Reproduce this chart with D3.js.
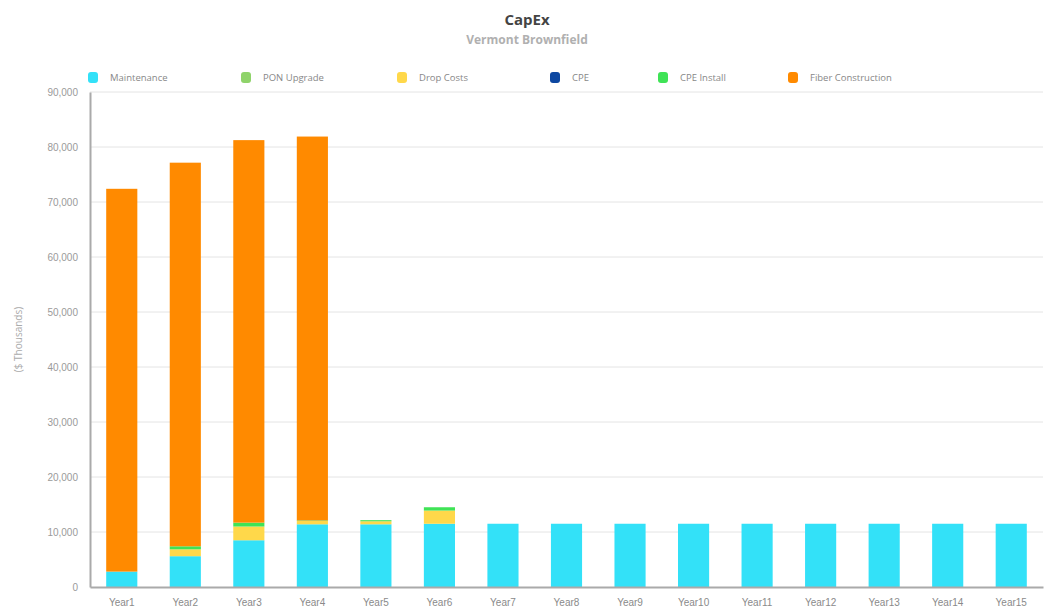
<!DOCTYPE html>
<html>
<head>
<meta charset="utf-8">
<script src="https://cdn.jsdelivr.net/npm/d3@7"></script>
<style>
  html, body { margin: 0; padding: 0; background: #fff; }
  svg { display: block; font-family: "Open Sans", "Noto Sans", sans-serif; }
</style>
</head>
<body>
<svg id="chart" width="1053" height="612"></svg>
<script>
// Capital expenditure by year, in $ thousands
const years = ["Year1","Year2","Year3","Year4","Year5","Year6","Year7","Year8",
               "Year9","Year10","Year11","Year12","Year13","Year14","Year15"];
const seriesNames = ["Maintenance","PON Upgrade","Drop Costs","CPE","CPE Install","Fiber Construction"];
const seriesColors = ["#33e1f8","#8fd36a","#ffd84a","#0d47a1","#3fe356","#ff8a00"];

const maintenance       = [2800, 5600, 8500, 11400, 11400, 11500, 11500, 11500, 11500, 11500, 11500, 11500, 11500, 11500, 11500];
const ponUpgrade        = [0, 0, 0, 0, 0, 0, 0, 0, 0, 0, 0, 0, 0, 0, 0];
const dropCosts         = [0, 1250, 2500, 600, 550, 2400, 0, 0, 0, 0, 0, 0, 0, 0, 0];
const cpe               = [0, 0, 0, 0, 0, 0, 0, 0, 0, 0, 0, 0, 0, 0, 0];
const cpeInstall        = [0, 550, 700, 100, 200, 600, 0, 0, 0, 0, 0, 0, 0, 0, 0];
const fiberConstruction = [69600, 69750, 69550, 69800, 0, 0, 0, 0, 0, 0, 0, 0, 0, 0, 0];

const yTicks = [0, 10000, 20000, 30000, 40000, 50000, 60000, 70000, 80000, 90000];

const seriesValues = [maintenance, ponUpgrade, dropCosts, cpe, cpeInstall, fiberConstruction];
const rows = years.map((y, i) => {
  const r = { year: y };
  seriesNames.forEach((s, k) => r[s] = seriesValues[k][i]);
  return r;
});

const svg = d3.select("#chart");
const margin = { left: 90, right: 10, top: 92, bottom: 25 };
const W = 1053, H = 612;

const x = d3.scaleBand().domain(years).range([margin.left, W - margin.right]).paddingInner(0.51).paddingOuter(0.255);
const y = d3.scaleLinear().domain([0, 90000]).range([H - margin.bottom, margin.top]);

// gridlines
svg.append("g")
  .selectAll("line")
  .data(yTicks.filter(t => t > 0))
  .join("line")
  .attr("x1", margin.left).attr("x2", W - margin.right)
  .attr("y1", d => y(d)).attr("y2", d => y(d))
  .attr("stroke", "#e4e4e4").attr("stroke-width", 1);

// stacked bars
const stack = d3.stack().keys(seriesNames)(rows);
svg.append("g")
  .selectAll("g")
  .data(stack)
  .join("g")
  .attr("fill", (d, i) => seriesColors[i])
  .selectAll("rect")
  .data(d => d.filter(p => p[1] - p[0] > 0))
  .join("rect")
  .attr("x", d => x(d.data.year))
  .attr("width", x.bandwidth())
  .attr("y", d => y(d[1]))
  .attr("height", d => y(d[0]) - y(d[1]));

// y axis
const yAxis = svg.append("g")
  .attr("transform", `translate(${margin.left},0)`)
  .call(d3.axisLeft(y).tickValues(yTicks).tickFormat(d3.format(",")).tickSize(0).tickPadding(12));
yAxis.select(".domain").attr("stroke", "#aaa").attr("stroke-width", 2);
yAxis.selectAll("text").attr("fill", "#9a9a9a").attr("font-size", 10);

// x axis
const xAxis = svg.append("g")
  .attr("transform", `translate(0,${H - margin.bottom})`)
  .call(d3.axisBottom(x).tickSize(0).tickPadding(12));
xAxis.select(".domain").attr("stroke", "#aaa").attr("stroke-width", 2);
xAxis.selectAll("text").attr("fill", "#8a8a8a").attr("font-size", 10);

// y axis title
svg.append("text")
  .attr("transform", `translate(22,${(margin.top + H - margin.bottom) / 2}) rotate(-90)`)
  .attr("text-anchor", "middle")
  .attr("fill", "#aaa").attr("font-size", 10)
  .text("($ Thousands)");

// title
svg.append("text")
  .attr("x", 527).attr("y", 25)
  .attr("text-anchor", "middle")
  .attr("font-size", 15).attr("font-weight", "bold").attr("fill", "#444")
  .text("CapEx");
svg.append("text")
  .attr("x", 527).attr("y", 44)
  .attr("text-anchor", "middle")
  .attr("font-size", 12).attr("font-weight", "bold").attr("fill", "#b0b0b0")
  .text("Vermont Brownfield");

// legend
const legendX = [88, 241, 397, 550, 658, 788];
const legend = svg.append("g")
  .selectAll("g")
  .data(seriesNames)
  .join("g")
  .attr("transform", (d, i) => `translate(${legendX[i]},72)`);
legend.append("rect")
  .attr("width", 10).attr("height", 11).attr("rx", 3)
  .attr("fill", (d, i) => seriesColors[i]);
legend.append("text")
  .attr("x", 22).attr("y", 9)
  .attr("font-size", 9.5).attr("fill", "#888")
  .text(d => d);
</script>
</body>
</html>
